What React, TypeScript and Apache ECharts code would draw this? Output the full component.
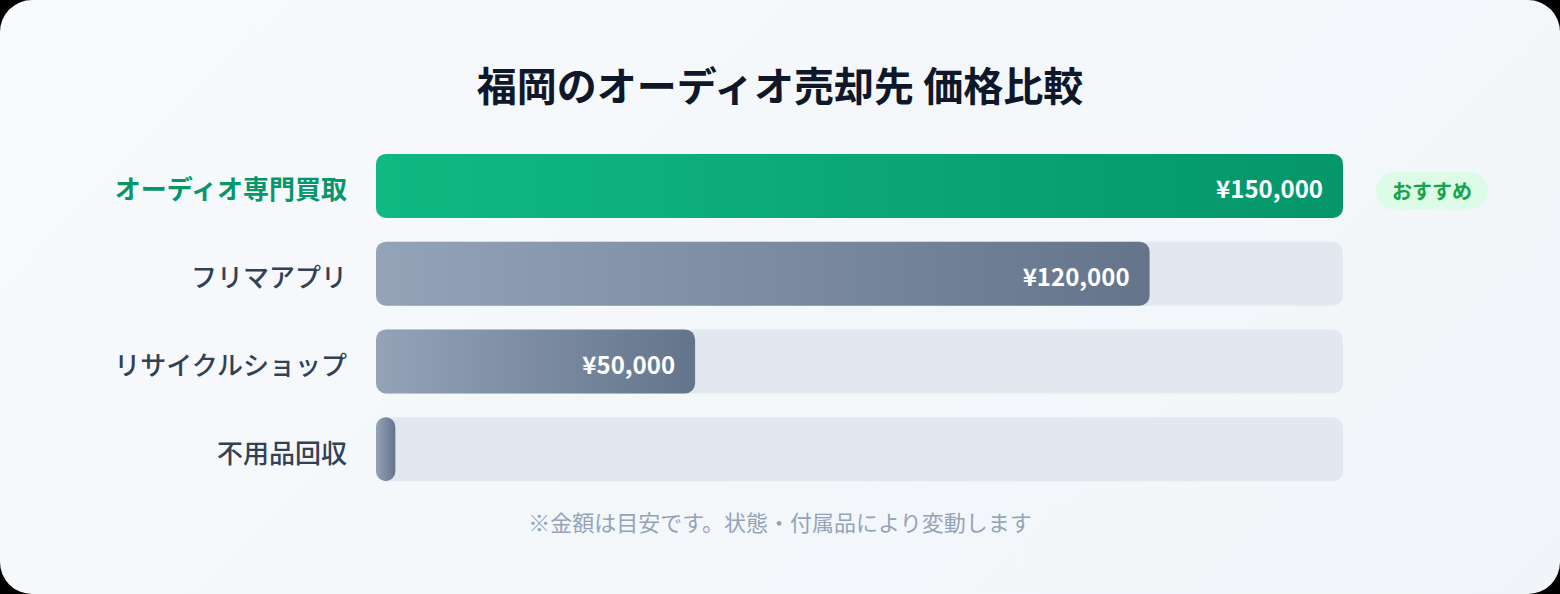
import { useEffect, useRef } from 'react'
import * as echarts from 'echarts'

const FONT = '"Noto Sans CJK JP", "Noto Sans", sans-serif'

const TITLE = '福岡のオーディオ売却先 価格比較'
const NOTE = '※金額は目安です。状態・付属品により変動します'
const BADGE = 'おすすめ'

const categories = ['オーディオ専門買取', 'フリマアプリ', 'リサイクルショップ', '不用品回収']
// price shown on each bar, and the bar's length as a share (%) of the track
const prices = [150000, 120000, 50000, 0]
const barShare = [100, 80, 33, 2]
const showPrice = [true, true, true, false]
const recommended = [true, false, false, false]

const greenGradient = () =>
  new echarts.graphic.LinearGradient(0, 0, 1, 0, [
    { offset: 0, color: '#10b981' },
    { offset: 1, color: '#059669' },
  ])

const slateGradient = () =>
  new echarts.graphic.LinearGradient(0, 0, 1, 0, [
    { offset: 0, color: '#94a3b8' },
    { offset: 1, color: '#64748b' },
  ])

function PriceChart() {
  const chartRef = useRef<HTMLDivElement>(null)

  useEffect(() => {
    if (!chartRef.current) return
    const chart = echarts.init(chartRef.current, null, { renderer: 'svg' })

    const option = {
      animation: false,
      title: [
        {
          text: TITLE,
          left: 'center',
          top: 58,
          textStyle: {
            fontFamily: FONT,
            fontSize: 40,
            fontWeight: 'bold',
            color: '#0f172a',
            lineHeight: 42,
          },
        },
        {
          text: NOTE,
          left: 'center',
          top: 504,
          textStyle: {
            fontFamily: FONT,
            fontSize: 22,
            fontWeight: 'normal',
            color: '#94a3b8',
            lineHeight: 24,
          },
        },
      ],
      grid: { left: 376, right: 217, top: 142, bottom: 101, containLabel: false },
      xAxis: { type: 'value', min: 0, max: 100, show: false },
      yAxis: [
        {
          type: 'category',
          data: categories,
          inverse: true,
          axisLine: { show: false },
          axisTick: { show: false },
          axisLabel: {
            margin: 29,
            padding: [4, 0, 0, 0],
            formatter: (v: string, i: number) =>
              recommended[i] ? `{top|${v}}` : `{rest|${v}}`,
            rich: {
              top: { fontFamily: FONT, fontSize: 26, fontWeight: 'bold', color: '#059669' },
              rest: { fontFamily: FONT, fontSize: 26, fontWeight: 500, color: '#334155' },
            },
          },
        },
        {
          type: 'category',
          data: categories,
          inverse: true,
          position: 'right',
          axisLine: { show: false },
          axisTick: { show: false },
          axisLabel: {
            margin: 33,
            align: 'left',
            padding: [10, 0, 0, 0],
            formatter: (_v: string, i: number) => (recommended[i] ? `{badge|${BADGE}}` : ''),
            rich: {
              badge: {
                fontFamily: FONT,
                fontSize: 20,
                fontWeight: 'bold',
                color: '#16a34a',
                backgroundColor: '#dcfce7',
                borderRadius: 19,
                padding: [9, 16, 9, 16],
                lineHeight: 20,
              },
            },
          },
        },
      ],
      series: [
        {
          type: 'bar',
          barWidth: 64,
          showBackground: true,
          backgroundStyle: { color: '#e2e8f0', borderRadius: 10 },
          data: barShare.map((s, i) => ({
            value: s,
            itemStyle: {
              color: recommended[i] ? greenGradient() : slateGradient(),
              borderRadius: 10,
            },
            label: { show: showPrice[i] },
          })),
          label: {
            show: true,
            position: 'insideRight',
            distance: 20,
            offset: [0, 2],
            fontFamily: FONT,
            fontSize: 24,
            fontWeight: 'bold',
            color: '#ffffff',
            formatter: (p: { dataIndex: number }) =>
              '¥' + prices[p.dataIndex].toLocaleString('en-US'),
          },
        },
      ],
    }

    chart.setOption(option)
    return () => chart.dispose()
  }, [])

  return <div ref={chartRef} style={{ width: 1560, height: 594 }} />
}

export default function App() {
  return (
    <div style={{ position: 'fixed', inset: 0, background: '#000' }}>
      <div
        style={{
          width: 1560,
          height: 594,
          borderRadius: 32,
          overflow: 'hidden',
          background: 'linear-gradient(135deg, #f8fafc 0%, #f1f5f9 100%)',
        }}
      >
        <PriceChart />
      </div>
    </div>
  )
}
